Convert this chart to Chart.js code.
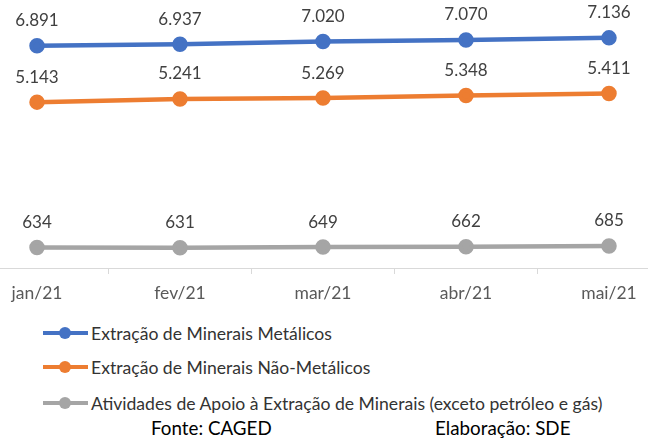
<!DOCTYPE html>
<html>
<head>
<meta charset="utf-8">
<script src="https://cdn.jsdelivr.net/npm/chart.js@4"></script>
<style>
  html, body { margin: 0; padding: 0; background: #fff; }
  #wrap { position: relative; width: 648px; height: 438px; overflow: hidden; font-family: Lato, sans-serif; }
  #chart { position: absolute; left: 0; top: 0; }
  .leg { position: absolute; left: 43px; height: 20px; display: flex; align-items: center; font-size: 17.6px; color: #333; white-space: nowrap; }
  .leg .ico { position: relative; width: 45px; height: 4px; margin-right: 3px; }
  .leg .ico i { position: absolute; left: 16px; top: -4px; width: 12px; height: 12px; border-radius: 50%; }
  .foot { position: absolute; top: 416px; font-size: 18.8px; color: #000; white-space: nowrap; }
</style>
</head>
<body>
<div id="wrap">
  <canvas id="chart" width="648" height="312"></canvas>
  <div id="legend"></div>
  <div class="foot" style="left:151px">Fonte: CAGED</div>
  <div class="foot" style="left:435px">Elaboração: SDE</div>
</div>
<script>
// Dados (CAGED, jan-mai/21)
const months = ["jan/21", "fev/21", "mar/21", "abr/21", "mai/21"];
const metalicos = [6891, 6937, 7020, 7070, 7136];
const naoMetalicos = [5143, 5241, 5269, 5348, 5411];
const apoio = [634, 631, 649, 662, 685];
const seriesNames = [
  "Extração de Minerais Metálicos",
  "Extração de Minerais Não-Metálicos",
  "Atividades de Apoio à Extração de Minerais (exceto petróleo e gás)"
];
const colors = ["#4472C4", "#ED7D31", "#A5A5A5"];

// number format 6891 -> 6.891
const fmt = v => String(v).replace(/\B(?=(\d{3})+(?!\d))/g, ".");

const makeSet = (label, data, color) => ({
  label: label,
  data: data,
  borderColor: color,
  backgroundColor: color,
  borderWidth: 4.5,
  pointRadius: 5.5,
  pointHoverRadius: 5.5,
  tension: 0,
});

// data labels above the points
const valueLabels = {
  id: "valueLabels",
  afterDatasetsDraw(chart) {
    const ctx = chart.ctx;
    ctx.save();
    ctx.font = "17px Lato";
    ctx.fillStyle = "#404040";
    ctx.textAlign = "center";
    ctx.textBaseline = "middle";
    chart.data.datasets.forEach((ds, i) => {
      chart.getDatasetMeta(i).data.forEach((pt, j) => {
        ctx.fillText(fmt(ds.data[j]), pt.x, pt.y - 25);
      });
    });
    ctx.restore();
  }
};

// horizontal axis line across the whole width
const axisLine = {
  id: "axisLine",
  beforeDatasetsDraw(chart) {
    const ctx = chart.ctx;
    const y = Math.round(chart.scales.y.getPixelForValue(0)) + 0.5;
    ctx.save();
    ctx.strokeStyle = "#D9D9D9";
    ctx.lineWidth = 1;
    ctx.beginPath();
    ctx.moveTo(0, y);
    ctx.lineTo(chart.width, y);
    ctx.stroke();
    ctx.restore();
  }
};

const chart = new Chart(document.getElementById("chart"), {
  type: "line",
  data: {
    labels: months,
    datasets: [
      makeSet(seriesNames[0], metalicos, colors[0]),
      makeSet(seriesNames[1], naoMetalicos, colors[1]),
      makeSet(seriesNames[2], apoio, colors[2]),
    ]
  },
  options: {
    responsive: false,
    animation: false,
    layout: { padding: { left: 37, right: 39, top: 3, bottom: 0 } },
    plugins: {
      legend: { display: false },
      tooltip: { enabled: false },
    },
    scales: {
      x: {
        offset: false,
        border: { display: false },
        grid: { offset: true, drawOnChartArea: false, color: "#D9D9D9", tickLength: 6 },
        ticks: { color: "#595959", font: { family: "Lato", size: 17.5 }, padding: 8.5, maxRotation: 0 },
      },
      y: {
        display: false,
        min: 0,
        max: 8000,
      }
    }
  },
  plugins: [valueLabels, axisLine]
});

// legend below the chart
const legendRows = [333, 367, 403];
const legend = document.getElementById("legend");
seriesNames.forEach((name, i) => {
  const row = document.createElement("div");
  row.className = "leg";
  row.style.top = (legendRows[i] - 10) + "px";
  row.innerHTML = '<span class="ico" style="background:' + colors[i] + '"><i style="background:' + colors[i] + '"></i></span>' + name;
  legend.appendChild(row);
});
</script>
</body>
</html>
